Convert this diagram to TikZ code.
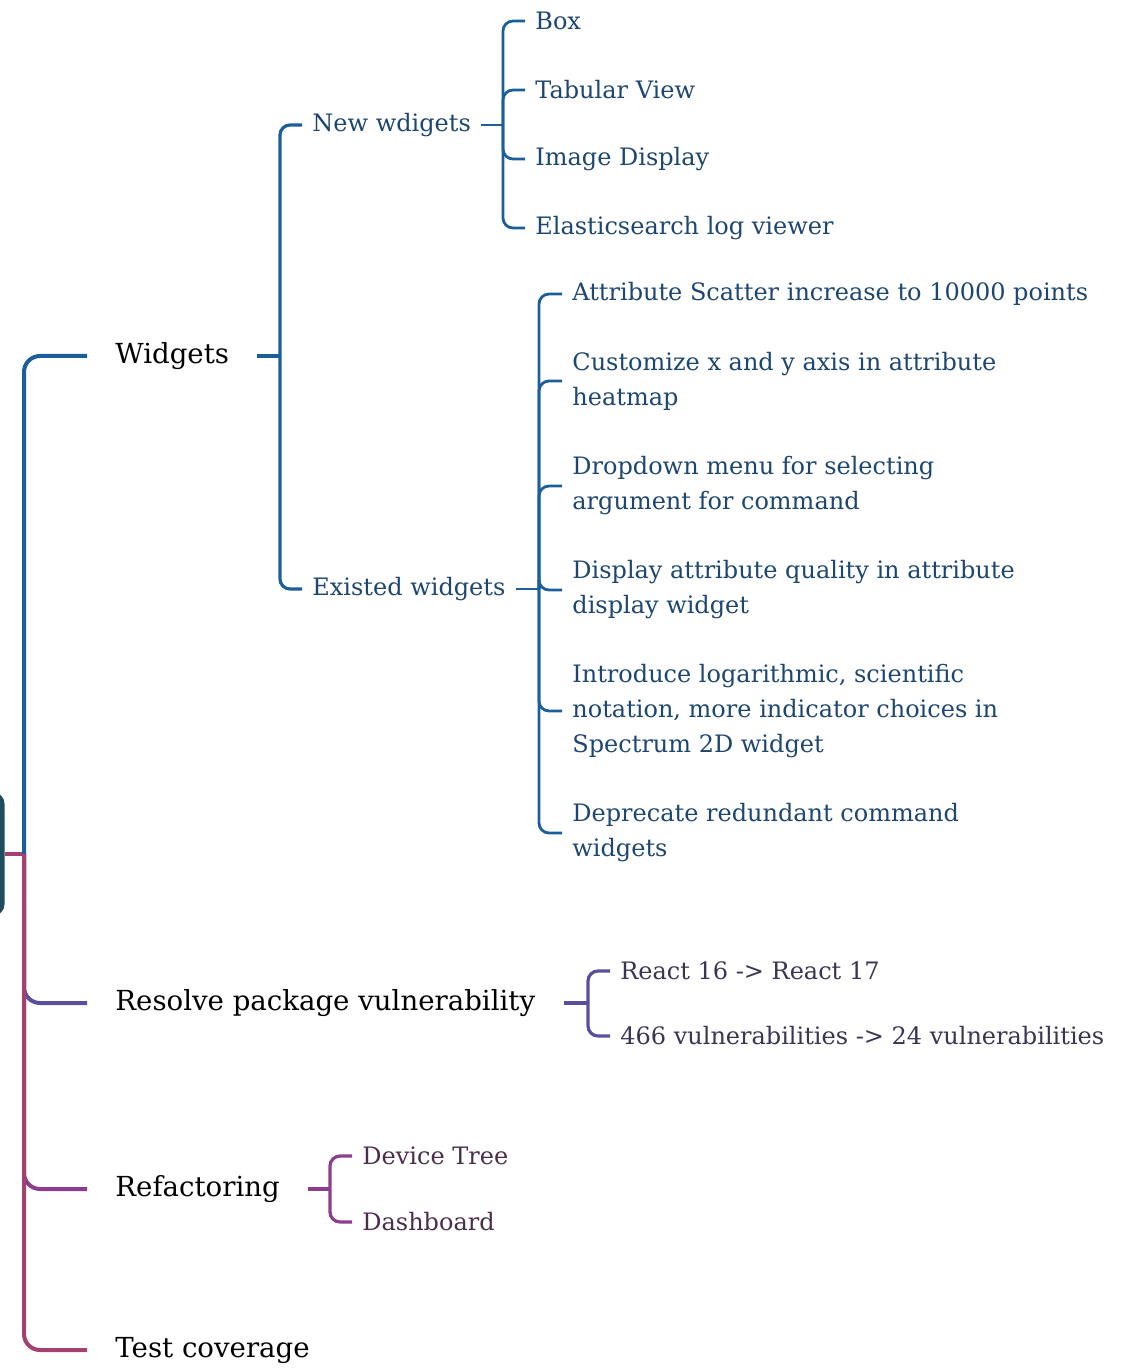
\documentclass[tikz,border=0pt]{standalone}
\usepackage{fontspec}
\setmainfont{DejaVu Serif}
\usepackage{xcolor}

\definecolor{wblue}{HTML}{1B5E9C}
\definecolor{wtext}{HTML}{1D4670}
\definecolor{trunkpink}{HTML}{A5416F}
\definecolor{vulnline}{HTML}{5A4F9D}
\definecolor{vulntext}{HTML}{3A3552}
\definecolor{refline}{HTML}{8C3D8D}
\definecolor{reftext}{HTML}{4A2D4B}
\definecolor{rootfill}{HTML}{1F4B63}

\tikzset{
  rootbox/.style={anchor=east, fill=rootfill, rounded corners=6pt, minimum width=40pt, minimum height=62pt},
  topic/.style={anchor=west, inner xsep=14pt, inner ysep=2pt, text=black, font=\fontsize{13.8}{16}\selectfont},
  subtopic/.style={anchor=west, inner xsep=5pt, inner ysep=2pt, align=left, font=\fontsize{12}{17.5}\selectfont},
  trunk/.style={line width=2pt, rounded corners=8pt},
  branch/.style={line width=1.6pt, rounded corners=5pt},
  leafline/.style={line width=1.4pt, rounded corners=5pt},
}

\begin{document}
\begin{tikzpicture}[x=0.5pt, y=-0.5pt]

  \clip (0,0) rectangle (1122,1368);

  % main topics
  \node[rootbox] (root) at (5,854) {};
  \node[topic] (widgets) at (87,356) {Widgets};
  \node[topic] (vuln) at (87,1003) {Resolve package vulnerability};
  \node[topic] (refact) at (87,1189) {Refactoring};
  \node[topic] (tests) at (87,1350) {Test coverage};

  \coordinate (rootj) at (24,854);
  \coordinate (widgetsj) at (280,356);
  \coordinate (newj) at (503,125);
  \coordinate (existj) at (539,589);
  \coordinate (vulnj) at (588,1003);
  \coordinate (refactj) at (330,1189);

  % widgets
  \node[subtopic, text=wtext] (neww) at (302,125) {New wdigets};
  \node[subtopic, text=wtext] (existw) at (302,589) {Existed widgets};

  \node[subtopic, text=wtext] (box) at (525,21) {Box};
  \node[subtopic, text=wtext] (tabular) at (525,90) {Tabular View};
  \node[subtopic, text=wtext] (image) at (525,159) {Image Display};
  \node[subtopic, text=wtext] (elastic) at (525,228) {Elasticsearch log viewer};

  \node[subtopic, text=wtext] (scatter) at (562,294) {Attribute Scatter increase to 10000 points};
  \node[subtopic, text=wtext] (heatmap) at (562,381) {Customize x and y axis in attribute\\heatmap};
  \node[subtopic, text=wtext] (dropdown) at (562,486) {Dropdown menu for selecting\\argument for command};
  \node[subtopic, text=wtext] (quality) at (562,590) {Display attribute quality in attribute\\display widget};
  \node[subtopic, text=wtext] (spectrum) at (562,711) {Introduce logarithmic, scientific\\notation, more indicator choices in\\Spectrum 2D widget};
  \node[subtopic, text=wtext] (deprecate) at (562,833) {Deprecate redundant command\\widgets};

  % vulnerability
  \node[subtopic, text=vulntext] (react) at (610,971) {React 16 -> React 17};
  \node[subtopic, text=vulntext] (vulncount) at (610,1036) {466 vulnerabilities -> 24 vulnerabilities};

  % refactoring
  \node[subtopic, text=reftext] (devtree) at (352,1156) {Device Tree};
  \node[subtopic, text=reftext] (dashboard) at (352,1222) {Dashboard};

  % trunk
  \draw[trunk, vulnline] (rootj) |- (vuln.west);
  \draw[trunk, refline] (rootj) |- (refact.west);
  \draw[trunk, trunkpink] (rootj) |- (tests.west);
  \draw[trunk, trunkpink] (root.east) -- (rootj);
  \draw[trunk, wblue] (rootj) |- (widgets.west);

  % widgets branches
  \draw[branch, wblue] (widgets.east) -- (widgetsj);
  \draw[branch, wblue] (widgetsj) |- (neww.west);
  \draw[branch, wblue] (widgetsj) |- (existw.west);

  \draw[leafline, wblue] (neww.east) -- (newj);
  \draw[leafline, wblue] (newj) |- (box.west);
  \draw[leafline, wblue] (newj) |- (tabular.west);
  \draw[leafline, wblue] (newj) |- (image.west);
  \draw[leafline, wblue] (newj) |- (elastic.west);

  \draw[leafline, wblue] (existw.east) -- (existj);
  \draw[leafline, wblue] (existj) |- (scatter.west);
  \draw[leafline, wblue] (existj) |- (heatmap.west);
  \draw[leafline, wblue] (existj) |- (dropdown.west);
  \draw[leafline, wblue] (existj) |- (quality.west);
  \draw[leafline, wblue] (existj) |- (spectrum.west);
  \draw[leafline, wblue] (existj) |- (deprecate.west);

  % vulnerability branches
  \draw[branch, vulnline] (vuln.east) -- (vulnj);
  \draw[branch, vulnline] (vulnj) |- (react.west);
  \draw[branch, vulnline] (vulnj) |- (vulncount.west);

  % refactoring branches
  \draw[branch, refline] (refact.east) -- (refactj);
  \draw[branch, refline] (refactj) |- (devtree.west);
  \draw[branch, refline] (refactj) |- (dashboard.west);

\end{tikzpicture}
\end{document}
